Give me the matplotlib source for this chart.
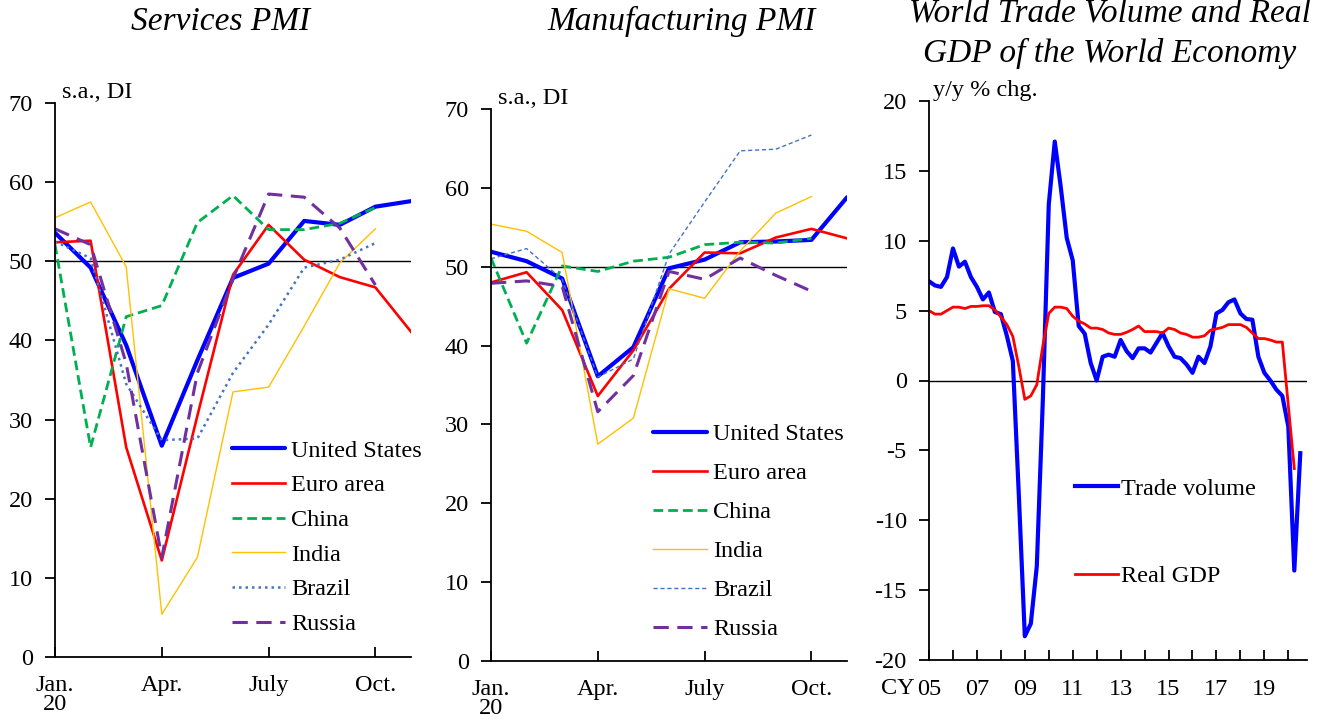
import matplotlib.pyplot as plt

plt.rcParams['font.family'] = ['Liberation Serif', 'DejaVu Serif']
plt.rcParams['axes.unicode_minus'] = False

# PMI, Jan. 2020 - Nov. 2020 (month index 0..10)
month_ticks = [0, 3, 6, 9]
month_labels = ['Jan.\n20', 'Apr.', 'July', 'Oct.']

svc_us = [53.6, 49.2, 39.4, 26.7, 37.5, 47.9, 49.7, 55.1, 54.6, 56.9, 57.6]
svc_euro = [52.4, 52.6, 26.5, 12.2, 30.5, 48.3, 54.6, 50.2, 48.0, 46.7, 41.1]
svc_china = [52.1, 26.5, 43.0, 44.4, 54.9, 58.3, 54.0, 54.0, 54.8, 56.8]
svc_india = [55.5, 57.5, 49.3, 5.4, 12.6, 33.5, 34.1, 41.8, 49.8, 54.1]
svc_brazil = [52.5, 50.4, 34.5, 27.4, 27.6, 35.9, 42.0, 49.2, 50.2, 52.3]
svc_russia = [54.1, 52.1, 37.1, 12.6, 35.9, 47.8, 58.5, 58.1, 54.2, 47.0]

mfg_us = [51.9, 50.7, 48.5, 36.1, 39.8, 49.8, 50.9, 53.1, 53.2, 53.4, 58.8]
mfg_euro = [48.0, 49.3, 44.5, 33.6, 39.4, 47.2, 51.8, 51.7, 53.7, 54.8, 53.6]
mfg_china = [51.1, 40.3, 50.1, 49.4, 50.7, 51.2, 52.8, 53.1, 53.0, 53.6]
mfg_india = [55.4, 54.5, 51.8, 27.5, 30.8, 47.2, 46.0, 52.0, 56.8, 58.9]
mfg_brazil = [51.0, 52.3, 48.4, 36.0, 38.3, 51.6, 58.2, 64.7, 64.9, 66.7]
mfg_russia = [47.9, 48.2, 47.5, 31.6, 36.2, 49.4, 48.4, 51.1, 48.9, 46.9]

# world trade volume and real GDP, y/y % chg., quarterly from 2005Q1
trade = [7.1, 6.8, 6.7, 7.4, 9.45, 8.15, 8.5, 7.4, 6.7, 5.8, 6.3, 4.9, 4.75, 3.2, 1.4,
         -8.2, -18.3, -17.4, -13.3, -1.5, 12.6, 17.1, 13.85, 10.2, 8.6, 3.9, 3.35, 1.25,
         0.0, 1.7, 1.85, 1.7, 2.9, 2.1, 1.6, 2.3, 2.3, 2.0, 2.7, 3.4, 2.45, 1.7, 1.6,
         1.15, 0.55, 1.7, 1.25, 2.45, 4.8, 5.05, 5.6, 5.8, 4.8, 4.4, 4.35, 1.7, 0.55,
         0.0, -0.65, -1.1, -3.3, -13.6, -5.2]
gdp = [5.0, 4.75, 4.75, 5.0, 5.25, 5.25, 5.15, 5.3, 5.3, 5.35, 5.35, 5.05, 4.55, 4.0,
       3.15, 1.0, -1.35, -1.1, -0.3, 2.45, 4.8, 5.25, 5.25, 5.15, 4.6, 4.25, 4.05, 3.75,
       3.75, 3.65, 3.4, 3.3, 3.3, 3.45, 3.65, 3.9, 3.5, 3.5, 3.5, 3.4, 3.75, 3.65, 3.4,
       3.3, 3.1, 3.1, 3.2, 3.6, 3.7, 3.8, 4.0, 4.0, 4.0, 3.8, 3.4, 3.0, 3.0, 2.9, 2.75,
       2.75, -1.8, -6.3]
year_ticks = list(range(2005, 2021))
year_labels = ['%02d' % (y % 100) if y % 2 == 1 else '' for y in year_ticks]

FS = 17.5
W, H = 1326, 722
fig = plt.figure(figsize=(W / 100, H / 100), dpi=100)


def px_axes(x0, x1, ytop, ybot):
    return fig.add_axes([x0 / W, (H - ybot) / H, (x1 - x0) / W, (ybot - ytop) / H])


def style(ax):
    for s in ['top', 'right']:
        ax.spines[s].set_visible(False)
    for s in ['left', 'bottom']:
        ax.spines[s].set_linewidth(1.3)
    ax.tick_params(axis='y', direction='out', length=7, width=1.3, pad=9, labelsize=FS)
    ax.tick_params(axis='x', direction='in', length=7, width=1.3, pad=13, labelsize=FS)


def pmi_panel(ax, series, brazil_ls, brazil_lw, legend_xy, spacing):
    us, euro, china, india, brazil, russia = series
    ax.plot(range(len(us)), us, color='#0000FF', lw=3.0, label='United States', solid_capstyle='round')
    ax.plot(range(len(euro)), euro, color='#FF0000', lw=1.9, label='Euro area')
    ax.plot(range(len(china)), china, color='#00B050', lw=2.0, ls=(0, (3.5, 1.8)), label='China')
    ax.plot(range(len(india)), india, color='#FFC000', lw=1.0, label='India')
    ax.plot(range(len(brazil)), brazil, color='#4472C4', lw=brazil_lw, ls=brazil_ls, label='Brazil')
    ax.plot(range(len(russia)), russia, color='#7030A0', lw=2.2, ls=(0, (5, 2.8)), label='Russia')
    ax.axhline(50, color='black', lw=1.0, zorder=1)
    ax.set_xlim(0, 10)
    ax.set_ylim(0, 70)
    ax.set_yticks(range(0, 71, 10))
    ax.set_xticks(month_ticks)
    ax.set_xticklabels(month_labels, linespacing=0.9)
    style(ax)
    ax.legend(loc='upper left', bbox_to_anchor=legend_xy, frameon=False, fontsize=FS,
              handlelength=2.2, handletextpad=0.25, labelspacing=spacing,
              borderpad=0, borderaxespad=0)


ax1 = px_axes(55, 411, 103, 657)
pmi_panel(ax1, [svc_us, svc_euro, svc_china, svc_india, svc_brazil, svc_russia],
          (0, (1, 1.6)), 1.8, (0.497, 0.392), 0.52)
ax1.text(0.02, 1.0, 's.a., DI', transform=ax1.transAxes, fontsize=FS, va='bottom')

ax2 = px_axes(491, 847, 109, 661)
pmi_panel(ax2, [mfg_us, mfg_euro, mfg_china, mfg_india, mfg_brazil, mfg_russia],
          (0, (3, 2)), 1.0, (0.456, 0.431), 0.7)
ax2.text(0.02, 1.0, 's.a., DI', transform=ax2.transAxes, fontsize=FS, va='bottom')

ax3 = px_axes(929, 1307, 101, 660)
qx = [2005 + 0.25 * i for i in range(len(trade))]
ax3.plot(qx, trade, color='#0000FF', lw=3.0, label='Trade volume')
ax3.plot(qx[:len(gdp)], gdp, color='#FF0000', lw=2.0, label='Real GDP')
ax3.axhline(0, color='black', lw=1.0, zorder=1)
ax3.set_xlim(2005, 2020.78)
ax3.set_ylim(-20, 20)
ax3.set_yticks(range(-20, 21, 5))
ax3.set_xticks(year_ticks)
ax3.set_xticklabels(year_labels)
style(ax3)
ax3.tick_params(axis='x', pad=14)
ax3.legend(loc='upper left', bbox_to_anchor=(0.387, 0.326), frameon=False, fontsize=FS,
           handlelength=1.75, handletextpad=0.15, labelspacing=2.7,
           borderpad=0, borderaxespad=0)
ax3.text(0.01, 1.0, 'y/y % chg.', transform=ax3.transAxes, fontsize=FS, va='bottom')
fig.text(915 / W, 1 - 688 / H, 'CY', fontsize=FS, ha='right', va='center')

fig.text(221 / W, 1 - 22 / H, 'Services PMI', fontsize=24, style='italic', ha='center', va='center')
fig.text(682 / W, 1 - 21 / H, 'Manufacturing PMI', fontsize=24, style='italic', ha='center', va='center')
fig.text(1110 / W, 1 - 62 / H, 'World Trade Volume and Real\nGDP of the World Economy',
         fontsize=24, style='italic', ha='center', va='baseline', linespacing=1.4)

fig.savefig('out.png', dpi=100)
